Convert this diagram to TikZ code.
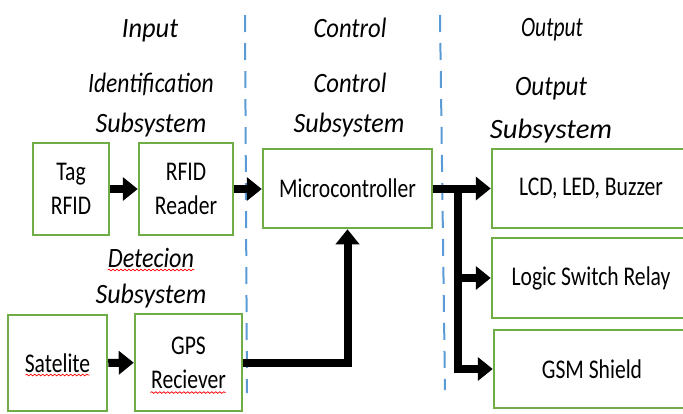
\documentclass[tikz,border=0pt]{standalone}
\usepackage{fontspec}
\setmainfont{Carlito}[FakeStretch=0.8]
\usetikzlibrary{arrows.meta}
\usetikzlibrary{positioning}
\usetikzlibrary{decorations.pathmorphing}
\definecolor{boxgreen}{HTML}{70AD47}
\definecolor{lineblue}{HTML}{5B9BD5}
\newcommand{\boxfont}{\fontsize{27}{34}\selectfont}
\newcommand{\headfont}{\fontsize{28}{34}\selectfont\itshape}
\newcommand{\widen}[2]{\scalebox{#1}[1]{#2}}
\tikzset{block/.style = {draw=boxgreen, line width=2.5pt, fill=white, align=center, inner sep=0pt, font=\boxfont}}
\tikzset{flow/.style = {line width=8pt, -{Triangle[length=15pt, width=23pt]}}}
\tikzset{heading/.style = {anchor=base, inner sep=0pt, font=\headfont}}
\tikzset{divider/.style = {lineblue, line width=2pt, dash pattern=on 17pt off 11pt}}
\tikzset{squiggle/.style = {red, line width=0.7pt, decorate,
                            decoration={snake, amplitude=0.8pt, segment length=4pt}}}

\begin{document}
\begin{tikzpicture}[x=1pt, y=-1pt]
    \clip (0, 0) rectangle (683, 413);
    \draw [divider] (245, 15) -- (247, 393);
    \draw [divider] (440, 15) -- (445, 390);

    % column headings
    \node [heading] (input) at (150, 37) {\widen{1.18}{Input}};
    \node [heading] (identA) at (151, 92) {\widen{1.05}{Identification}};
    \node [heading] (identB) at (151, 132) {\widen{1.16}{Subsystem}};
    \node [heading] (control) at (350, 37) {\widen{1.10}{Control}};
    \node [heading] (controlA) at (350, 92) {\widen{1.10}{Control}};
    \node [heading] (controlB) at (349, 132) {\widen{1.16}{Subsystem}};
    \node [heading] (output) at (552, 36) {\widen{0.96}{Output}};
    \node [heading] (outputA) at (551, 95) {\widen{1.12}{Output}};
    \node [heading] (outputB) at (551, 138) {\widen{1.28}{Subsystem}};
    \node [heading] (detectA) at (151, 267) {\widen{1.08}{Detecion}};
    \node [heading] (detectB) at (151, 303) {\widen{1.16}{Subsystem}};

    % blocks
    \node [block, minimum width=76, minimum height=92] (tag) at (71, 189) {Tag\\RFID};
    \node [block, minimum width=94, minimum height=92] (reader) at (186, 189) {RFID\\Reader};
    \node [block, minimum width=169, minimum height=79] (micro) at (347.5, 188.5) {Microcontroller};
    \node [block, minimum width=198, minimum height=79] (lcd) at (591, 188.5) {LCD, LED, Buzzer};
    \node [block, minimum width=198, minimum height=80] (relay) at (591, 278) {Logic Switch Relay};
    \node [block, minimum width=196, minimum height=78] (gsm) at (592, 369) {GSM Shield};
    \node [block, minimum width=99, minimum height=96] (sat) at (57.5, 363) {Satelite};
    \node [block, minimum width=107, minimum height=97] (gps) at (188.5, 362.5) {GPS\\Reciever};

    % connectors
    \draw [flow] (tag) -- (reader);
    \draw [flow] (reader.east) -- (reader.east -| micro.west);
    \draw [flow] (sat) -- (gps);
    \draw [flow, line join=miter] (gps.east) -| (micro.south);
    \draw [flow] (micro) -- (lcd);
    \coordinate [right=25 of micro.east] (branch);
    \draw [flow, line join=miter] (branch) |- (relay.west);
    \draw [flow, line join=miter] (branch) |- (gsm.west);

    % spelling marks
    \draw [squiggle] ([yshift=-3]detectA.base west) -- ([yshift=-3]detectA.base east);
    \draw [squiggle] ([shift={(-32, 12)}]sat.center) -- ([shift={(32, 12)}]sat.center);
    \draw [squiggle] ([shift={(-38, 30)}]gps.center) -- ([shift={(37, 30)}]gps.center);
\end{tikzpicture}
\end{document}
